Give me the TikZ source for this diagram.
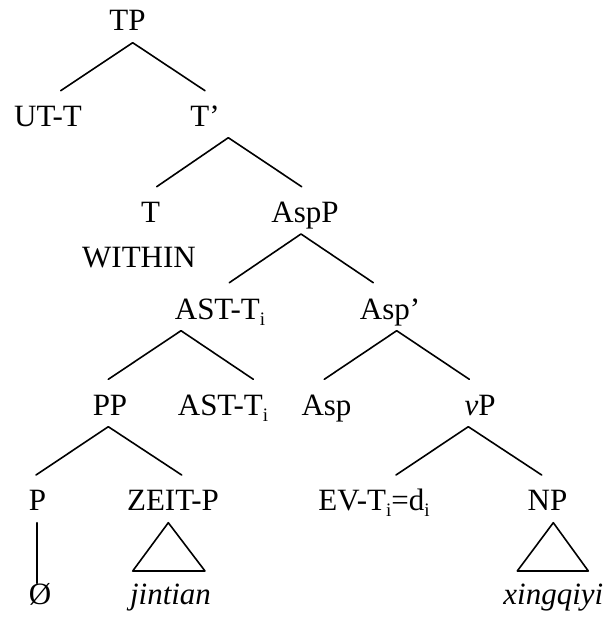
\documentclass[tikz,border=0pt]{standalone}
\usepackage{fontspec}
\setmainfont{Liberation Serif}
\newcommand{\sbi}{\raisebox{-0.22em}{\fontsize{19}{19}\selectfont i}}
\begin{document}
\begin{tikzpicture}[x=1pt,y=-1pt,
  lab/.style={anchor=base,inner sep=0pt,font=\fontsize{31}{36}\selectfont},
  branch/.style={line width=1.6pt,line cap=round,line join=round}]
\useasboundingbox (0,0) rectangle (609,617);

% category labels
\node[lab] (tp)    at (127.5,31)  {TP};
\node[lab] (utt)   at (48,127)    {UT-T};
\node[lab] (tbar)  at (205,127)   {T’};
\node[lab] (t)     at (150.5,223) {T};
\node[lab] (aspp)  at (305,223)   {AspP};
\node[lab] (within) at (139,267)  {WITHIN};
\node[lab] (astA)  at (220,319)   {AST-T\sbi};
\node[lab] (aspbar) at (390,319)  {Asp’};
\node[lab] (pp)    at (110,415)   {PP};
\node[lab] (astB)  at (223,415)   {AST-T\sbi};
\node[lab] (asp)   at (326.5,415) {Asp};
\node[lab] (vp)    at (480,415)   {\textit{v}P};
\node[lab] (p)     at (37.5,510.7) {P};
\node[lab] (zeit)  at (173,510.7) {ZEIT-P};
\node[lab] (ev)    at (374,510)   {EV-T\sbi=d\sbi};
\node[lab] (np)    at (547.5,510) {NP};
\node[lab] (null)  at (40,604)    {Ø};
\node[lab] (jin)   at (170.5,604) {\textit{jintian}};
\node[lab] (xing)  at (553.3,604) {\textit{xingqiyi}};

% branch end points
\coordinate (tpA)  at (132.7,42.7);
\coordinate (tpL)  at (60.7,90.7);
\coordinate (tpR)  at (205,90.7);
\coordinate (tbA)  at (228.3,137.7);
\coordinate (tbL)  at (156.7,186.7);
\coordinate (tbR)  at (301.7,186.7);
\coordinate (apA)  at (301,234);
\coordinate (apL)  at (229.3,282.7);
\coordinate (apR)  at (373.3,282.7);
\coordinate (stA)  at (181,330.7);
\coordinate (stL)  at (108.3,379.3);
\coordinate (stR)  at (253.3,379.3);
\coordinate (abA)  at (396.7,330.7);
\coordinate (abL)  at (324.3,379.3);
\coordinate (abR)  at (469.3,379.3);
\coordinate (ppA)  at (108.3,426.7);
\coordinate (ppL)  at (36,475);
\coordinate (ppR)  at (181.7,475);
\coordinate (vpA)  at (468.3,426.7);
\coordinate (vpL)  at (396,475);
\coordinate (vpR)  at (541.7,475);
\coordinate (pTop) at (36.7,522.7);
\coordinate (pBot) at (36.7,583.3);
\coordinate (zA)   at (168.3,522.7);
\coordinate (zL)   at (132.7,571);
\coordinate (zR)   at (205,571);
\coordinate (nA)   at (553.3,522.7);
\coordinate (nL)   at (517.3,571);
\coordinate (nR)   at (588.3,571);

% branches
\draw[branch] (tpL) -- (tpA) -- (tpR);
\draw[branch] (tbL) -- (tbA) -- (tbR);
\draw[branch] (apL) -- (apA) -- (apR);
\draw[branch] (stL) -- (stA) -- (stR);
\draw[branch] (abL) -- (abA) -- (abR);
\draw[branch] (ppL) -- (ppA) -- (ppR);
\draw[branch] (vpL) -- (vpA) -- (vpR);
\draw[branch] (pTop) -- (pBot);

% roof triangles
\draw[branch] (zA) -- (zL) -- (zR) -- cycle;
\draw[branch] (nA) -- (nL) -- (nR) -- cycle;
\end{tikzpicture}
\end{document}
